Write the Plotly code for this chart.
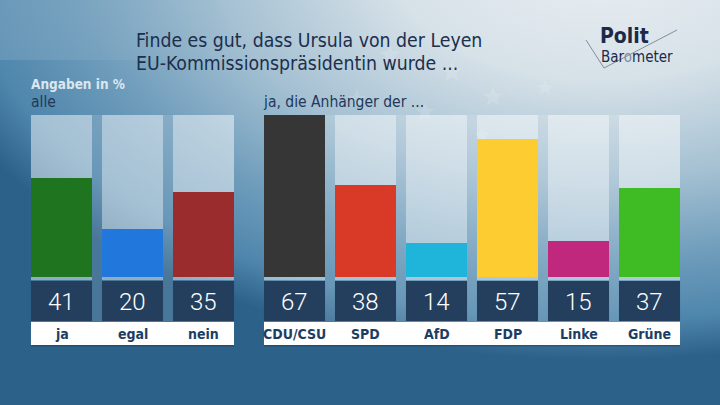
import base64
import math
import plotly.graph_objects as go

# ---------------- data ----------------
left_cats = ["ja", "egal", "nein"]
left_vals = [41, 20, 35]
left_colors = ["#1f751f", "#2277dc", "#9a2c2e"]

right_cats = ["CDU/CSU", "SPD", "AfD", "FDP", "Linke", "Grüne"]
right_vals = [67, 38, 14, 57, 15, 37]
right_colors = ["#363636", "#d83a27", "#1fb5db", "#fdcc30", "#c0287e", "#3fbc24"]

title_lines = ["Finde es gut, dass Ursula von der Leyen",
               "EU-Kommissionspräsidentin wurde ..."]
unit_label = "Angaben in %"
left_head = "alle"
right_head = "ja, die Anhänger der ..."
y_max = 67

W, H = 720, 405
FONT = "DejaVu Sans Condensed"
NAVY = "#1c2f4c"
BOX = "#243f5e"
LABEL = "#1d3d62"


def px(x):
    return x / W


def py(y):
    return 1 - y / H


# ---------------- background (SVG gradient) ----------------
def star(cx, cy, r):
    pts = []
    for k in range(10):
        a = -math.pi / 2 + k * math.pi / 5
        rr = r if k % 2 == 0 else r * 0.42
        pts.append(f"{cx + rr * math.cos(a):.1f},{cy + rr * math.sin(a):.1f}")
    return f'<polygon points="{" ".join(pts)}" fill="white" fill-opacity="0.13"/>'


stars = "".join(star(x, y, r) for x, y, r in [
    (390, 55, 11), (452, 72, 11), (493, 97, 11), (425, 112, 10),
    (357, 99, 10), (482, 135, 9), (545, 88, 9)])

svg = f'''<svg xmlns="http://www.w3.org/2000/svg" width="{W}" height="{H}" viewBox="0 0 {W} {H}">
<defs>
<radialGradient id="g" gradientUnits="userSpaceOnUse" cx="0" cy="0" r="1"
 gradientTransform="translate(600,-40) scale(700,400)">
<stop offset="0" stop-color="#eaeff2"/>
<stop offset="0.3" stop-color="#d6e1e8"/>
<stop offset="0.55" stop-color="#a4c0d2"/>
<stop offset="0.75" stop-color="#6e9cbb"/>
<stop offset="0.9" stop-color="#4f86ac"/>
<stop offset="1" stop-color="#2c6189"/>
</radialGradient>
<linearGradient id="h" x1="0" y1="0" x2="1" y2="0">
<stop offset="0" stop-color="#ffffff" stop-opacity="0.12"/>
<stop offset="0.3" stop-color="#ffffff" stop-opacity="0"/>
</linearGradient>
</defs>
<rect width="{W}" height="{H}" fill="#245a80"/>
<rect width="{W}" height="{H}" fill="url(#g)"/>
<rect width="{W}" height="60" fill="url(#h)"/>
{stars}
</svg>'''
bg_uri = "data:image/svg+xml;base64," + base64.b64encode(svg.encode()).decode()

# ---------------- figure ----------------
fig = go.Figure()

BW = 0.86
fig.add_trace(go.Bar(x=left_cats, y=left_vals, marker=dict(color=left_colors, line=dict(width=0)),
                     width=BW, xaxis="x", yaxis="y", showlegend=False, hoverinfo="skip"))
fig.add_trace(go.Bar(x=right_cats, y=right_vals, marker=dict(color=right_colors, line=dict(width=0)),
                     width=BW, xaxis="x2", yaxis="y2", showlegend=False, hoverinfo="skip"))

bar_top, bar_bot = 115, 277
y_dom = [py(bar_bot), py(bar_top)]

shapes = []
annotations = []

groups = [("x", left_cats, left_vals), ("x2", right_cats, right_vals)]
for xref, cats, vals in groups:
    n = len(cats)
    shapes.append(dict(type="rect", xref=xref, yref="paper", x0=-BW / 2, x1=n - 1 + BW / 2,
                       y0=py(322), y1=py(115), fillcolor="rgba(255,255,255,0.14)",
                       line=dict(width=0), layer="below"))
    shapes.append(dict(type="rect", xref=xref, yref="paper", x0=-BW / 2, x1=n - 1 + BW / 2,
                       y0=py(346.5), y1=py(322), fillcolor="rgba(20,40,70,0.35)",
                       line=dict(width=0), layer="above"))
    shapes.append(dict(type="rect", xref=xref, yref="paper", x0=-BW / 2, x1=n - 1 + BW / 2,
                       y0=py(345), y1=py(322), fillcolor="white",
                       line=dict(width=0), layer="above"))
    for i, (c, v) in enumerate(zip(cats, vals)):
        shapes.append(dict(type="rect", xref=xref, yref="paper", x0=i - BW / 2, x1=i + BW / 2,
                           y0=py(280), y1=py(115), fillcolor="rgba(255,255,255,0.40)",
                           line=dict(width=0), layer="below"))
        shapes.append(dict(type="rect", xref=xref, yref="paper", x0=i - BW / 2, x1=i + BW / 2,
                           y0=py(321), y1=py(281), fillcolor=BOX,
                           line=dict(width=0), layer="above"))
        annotations.append(dict(xref=xref, yref="paper", x=i, y=py(301.5), text=str(v),
                                showarrow=False, xanchor="center", yanchor="middle",
                                font=dict(family="Roboto", size=24, color="white", weight=300)))
        annotations.append(dict(xref=xref, yref="paper", x=i, y=py(333.5), text=f"<b>{c}</b>",
                                showarrow=False, xanchor="center", yanchor="middle",
                                font=dict(family=FONT, size=14, color=LABEL)))

# title
annotations.append(dict(xref="paper", yref="paper", x=px(134), y=py(41), text=title_lines[0],
                        showarrow=False, xanchor="left", yanchor="middle",
                        font=dict(family=FONT, size=19.3, color=NAVY)))
annotations.append(dict(xref="paper", yref="paper", x=px(134), y=py(64), text=title_lines[1],
                        showarrow=False, xanchor="left", yanchor="middle",
                        font=dict(family=FONT, size=19.3, color=NAVY)))
annotations.append(dict(xref="paper", yref="paper", x=px(29), y=py(84), text=f"<b>{unit_label}</b>",
                        showarrow=False, xanchor="left", yanchor="middle",
                        font=dict(family=FONT, size=13.5, color="#dbe6ee")))
annotations.append(dict(xref="paper", yref="paper", x=px(29), y=py(102), text=left_head,
                        showarrow=False, xanchor="left", yanchor="middle",
                        font=dict(family=FONT, size=15.5, color="#22395a")))
annotations.append(dict(xref="paper", yref="paper", x=px(261), y=py(102), text=right_head,
                        showarrow=False, xanchor="left", yanchor="middle",
                        font=dict(family=FONT, size=15.5, color="#22395a")))

# logo
annotations.append(dict(xref="paper", yref="paper", x=px(599), y=py(49), text="<b>Polit</b>",
                        showarrow=False, xanchor="left", yanchor="bottom", borderpad=0,
                        font=dict(family=FONT, size=21, color="#1a2a48")))
annotations.append(dict(xref="paper", yref="paper", x=px(600), y=py(47),
                        text="Bar<span style='color:#7d8c9c'>o</span>meter",
                        showarrow=False, xanchor="left", yanchor="top", borderpad=0,
                        font=dict(family=FONT, size=15, color="#1a2a48")))
shapes.append(dict(type="path", xref="paper", yref="paper",
                   path=f"M {px(586)},{py(40)} L {px(604)},{py(68)} L {px(677)},{py(30)}",
                   line=dict(color="rgba(110,120,135,0.8)", width=1)))

fig.update_layout(
    width=W, height=H,
    margin=dict(l=0, r=0, t=0, b=0),
    paper_bgcolor="#245a80",
    plot_bgcolor="rgba(0,0,0,0)",
    bargap=0,
    xaxis=dict(domain=[px(26), px(239)], range=[-0.5, 2.5], visible=False, fixedrange=True),
    xaxis2=dict(domain=[px(259), px(685)], range=[-0.5, 5.5], visible=False, fixedrange=True),
    yaxis=dict(domain=y_dom, range=[0, y_max], visible=False, fixedrange=True),
    yaxis2=dict(domain=y_dom, range=[0, y_max], visible=False, fixedrange=True, anchor="x2"),
    shapes=shapes,
    annotations=annotations,
    images=[dict(source=bg_uri, xref="paper", yref="paper", x=0, y=1, sizex=1, sizey=1,
                 sizing="stretch", layer="below", xanchor="left", yanchor="top")],
)

fig.write_html("out.html", config={"displayModeBar": False},
               post_script="document.body.style.margin='0';document.body.style.padding='0';")
